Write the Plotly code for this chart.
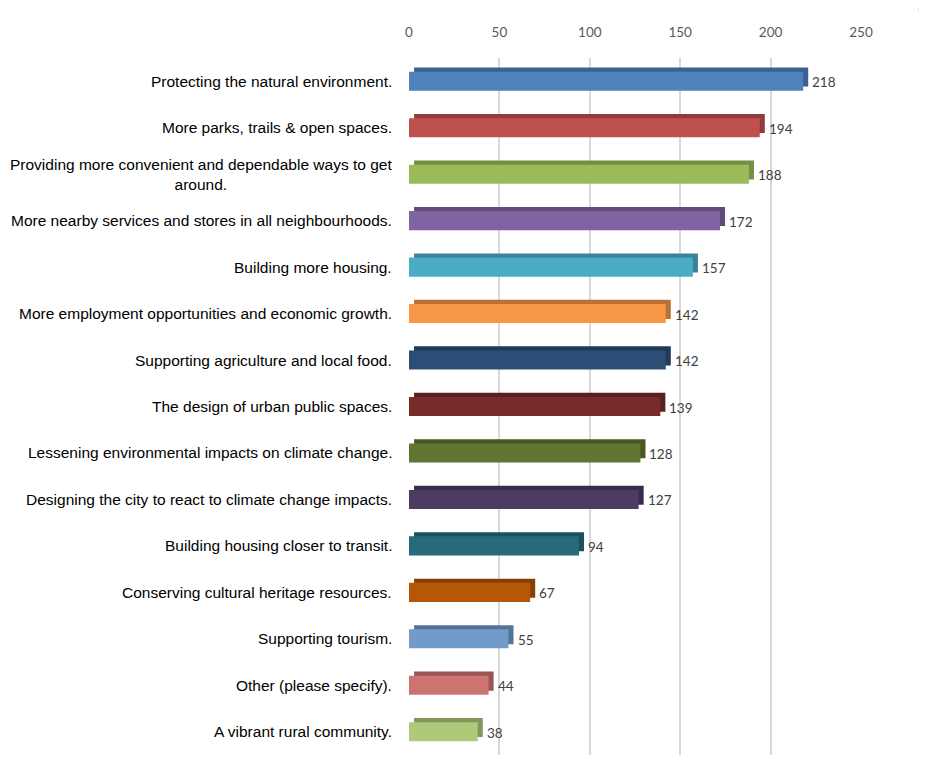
import plotly.graph_objects as go

categories = [
    "Protecting the natural environment.",
    "More parks, trails & open spaces.",
    "Providing more convenient and dependable ways to get<br>around.",
    "More nearby services and stores in all neighbourhoods.",
    "Building more housing.",
    "More employment opportunities and economic growth.",
    "Supporting agriculture and local food.",
    "The design of urban public spaces.",
    "Lessening environmental impacts on climate change.",
    "Designing the city to react to climate change impacts.",
    "Building housing closer to transit.",
    "Conserving cultural heritage resources.",
    "Supporting tourism.",
    "Other (please specify).",
    "A vibrant rural community.",
]
values = [218, 194, 188, 172, 157, 142, 142, 139, 128, 127, 94, 67, 55, 44, 38]
front_colors = [
    "#4F81BD", "#C0504D", "#9BBB59", "#8064A2", "#4BACC6", "#F79646",
    "#2C4D75", "#772C2A", "#5F7530", "#4D3B62", "#276A7C", "#B65708",
    "#729ACA", "#CD7371", "#AFC97A",
]
side_colors = [
    "#3A6190", "#913C3A", "#758E43", "#604B7B", "#388396", "#BA7034",
    "#203A58", "#59201F", "#475823", "#392C4A", "#1D505D", "#884105",
    "#557399", "#9A5654", "#84975B",
]
tick_vals = [0, 50, 100, 150, 200, 250]

idx = list(range(len(categories)))
bar_w = 0.41
depth_y = 0.09
depth_x = 2.8

fig = go.Figure()
# back/top face (3D depth)
fig.add_trace(go.Bar(
    y=idx, x=values, base=depth_x, orientation="h",
    width=bar_w, offset=-bar_w / 2 - depth_y,
    marker=dict(color=side_colors, line=dict(width=0)),
    hoverinfo="skip", showlegend=False,
))
# front face
fig.add_trace(go.Bar(
    y=idx, x=values, orientation="h",
    width=bar_w, offset=-bar_w / 2,
    marker=dict(color=front_colors, line=dict(width=0)),
    showlegend=False,
))

annotations = []
for i, (c, v) in enumerate(zip(categories, values)):
    annotations.append(dict(
        x=0, xref="paper", y=i, yref="y", text=c, showarrow=False,
        xanchor="right", yanchor="middle", align="center", xshift=-15,
        font=dict(family="Liberation Sans, Arial", size=15.5, color="#000000"),
    ))
    annotations.append(dict(
        x=v + depth_x, xref="x", y=i, yref="y", text=str(v), showarrow=False,
        xanchor="left", yanchor="middle", xshift=2, yshift=-1,
        font=dict(family="Lato, Carlito, sans-serif", size=13.5, color="#404040"),
    ))

fig.update_layout(
    width=919, height=773,
    margin=dict(l=401, r=66, t=50, b=26),
    paper_bgcolor="white", plot_bgcolor="white",
    barmode="overlay",
    annotations=annotations,
    shapes=[dict(
        type="path", xref="paper", yref="paper",
        path="M 1.095,1.09 Q 1.13,1.085 1.135,1.045",
        line=dict(color="#D9D9D9", width=1),
    )],
    xaxis=dict(
        range=[0, 250], side="top", tickvals=tick_vals,
        showgrid=True, gridcolor="#D9D9D9", gridwidth=1.5,
        zeroline=False, showline=False, ticks="",
        ticklabelstandoff=17, automargin=False,
        tickfont=dict(family="Lato, Carlito, sans-serif", size=13.5, color="#595959"),
    ),
    yaxis=dict(
        range=[14.5, -0.5], showticklabels=False, showgrid=False,
        zeroline=False, showline=False, ticks="", automargin=False,
    ),
)

fig.write_html("out.html")
